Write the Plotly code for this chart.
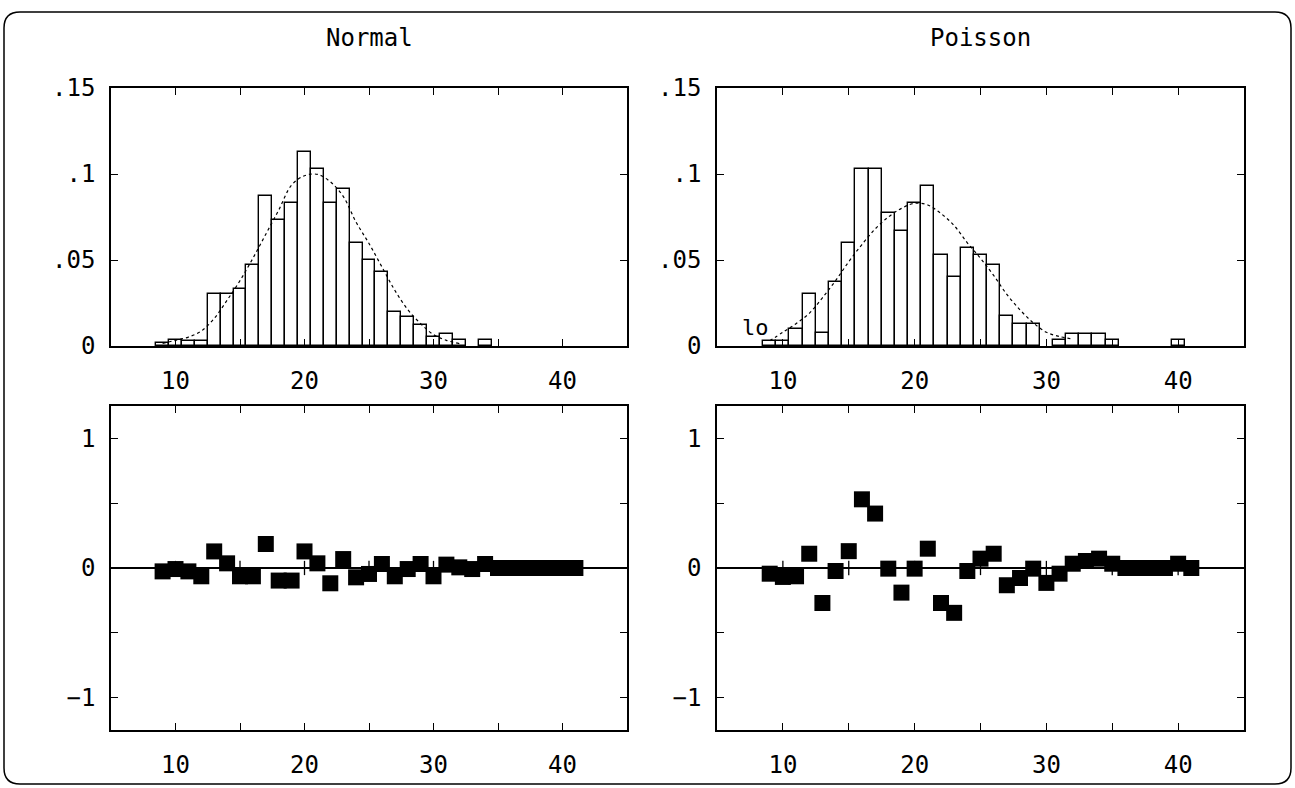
import plotly.graph_objects as go

W, H = 1295, 788

# ---------------- data ----------------
# Normal histogram (bin centres, relative frequency)
normal_bins = [9, 10, 11, 12, 13, 14, 15, 16, 17, 18, 19, 20, 21, 22, 23, 24, 25,
               26, 27, 28, 29, 30, 31, 32, 34]
normal_freq = [0.002, 0.0035, 0.0027, 0.0027, 0.030, 0.030, 0.033, 0.047, 0.087,
               0.073, 0.083, 0.113, 0.103, 0.083, 0.091, 0.060, 0.050, 0.043,
               0.020, 0.017, 0.0125, 0.0055, 0.0072, 0.0033, 0.0033]

# Normal fitted curve
normal_curve_x = list(range(9, 33))
normal_curve_y = [0.0015, 0.0033, 0.0052, 0.0087, 0.016, 0.0266, 0.038, 0.051,
                  0.065, 0.079, 0.0936, 0.099, 0.0998, 0.0955, 0.087, 0.072,
                  0.0596, 0.046, 0.0324, 0.0212, 0.013, 0.0066, 0.0033, 0.0014]

# Poisson histogram
poisson_bins = [9, 10, 11, 12, 13, 14, 15, 16, 17, 18, 19, 20, 21, 22, 23, 24, 25,
                26, 27, 28, 29, 31, 32, 33, 34, 35, 40]
poisson_freq = [0.003, 0.003, 0.0097, 0.030, 0.0074, 0.0374, 0.060, 0.103, 0.103,
                0.0775, 0.067, 0.083, 0.093, 0.053, 0.040, 0.057, 0.053, 0.047,
                0.0175, 0.0128, 0.0128, 0.0033, 0.007, 0.007, 0.007, 0.0033, 0.0033]

# Poisson fitted curve
poisson_curve_x = list(range(9, 33))
poisson_curve_y = [0.003, 0.008, 0.013, 0.019, 0.028, 0.038, 0.049, 0.059, 0.068,
                   0.075, 0.080, 0.083, 0.082, 0.077, 0.070, 0.060, 0.051, 0.041,
                   0.030, 0.021, 0.0135, 0.008, 0.0055, 0.004]

# Residuals
resid_x = list(range(9, 42))
normal_resid = [-0.026, -0.008, -0.026, -0.064, 0.128, 0.036, -0.064, -0.064, 0.185,
                -0.097, -0.097, 0.128, 0.036, -0.118, 0.069, -0.072, -0.046, 0.031,
                -0.064, -0.008, 0.031, -0.064, 0.026, 0.005, -0.008, 0.031,
                0.0, 0.0, 0.0, 0.0, 0.0, 0.0, 0.0]
poisson_resid = [-0.044, -0.069, -0.064, 0.11, -0.27, -0.023, 0.13, 0.53, 0.42,
                 -0.005, -0.19, -0.005, 0.149, -0.27, -0.346, -0.023, 0.072, 0.11,
                 -0.133, -0.077, -0.005, -0.115, -0.044, 0.033, 0.054, 0.072, 0.033,
                 0.0, 0.0, 0.0, 0.0, 0.033, 0.0]

x_ticks = [10, 15, 20, 25, 30, 35, 40]
x_ticktext = ["10", "", "20", "", "30", "", "40"]
hist_yticks = [0, 0.05, 0.1, 0.15]
hist_yticktext = ["0", ".05", ".1", ".15"]
res_yticks = [-1, -0.5, 0, 0.5, 1]
res_yticktext = ["\u22121", "", "0", "", "1"]
titles = ["Normal", "Poisson"]
note_text = "lo"

FONT = "DejaVu Sans Mono, Liberation Mono, monospace"

# ---------------- layout geometry ----------------
def px_x(p):
    return p / W

def px_y(p):
    return 1 - p / H

dom_x_left = [px_x(111), px_x(627)]
dom_x_right = [px_x(717), px_x(1244)]
dom_y_top = [px_y(346), px_y(88)]
dom_y_bot = [px_y(730), px_y(406)]

fig = go.Figure()

bar_style = dict(color="white", line=dict(color="black", width=1.4))
curve_style = dict(color="black", width=1.2, dash="dot", shape="spline")
marker_style = dict(symbol="square", size=16, color="black", line=dict(width=0))

# Histograms
fig.add_trace(go.Bar(x=normal_bins, y=normal_freq, width=1, marker=bar_style,
                     xaxis="x", yaxis="y", showlegend=False))
fig.add_trace(go.Scatter(x=normal_curve_x, y=normal_curve_y, mode="lines",
                         line=curve_style, xaxis="x", yaxis="y", showlegend=False))
fig.add_trace(go.Bar(x=poisson_bins, y=poisson_freq, width=1, marker=bar_style,
                     xaxis="x2", yaxis="y2", showlegend=False))
fig.add_trace(go.Scatter(x=poisson_curve_x, y=poisson_curve_y, mode="lines",
                         line=curve_style, xaxis="x2", yaxis="y2", showlegend=False))

# Crossing tick marks on the zero line of the residual plots
tick_half = 0.055
cross_x, cross_y = [], []
for t in x_ticks:
    cross_x += [t, t, None]
    cross_y += [-tick_half, tick_half, None]
for xa, ya in (("x3", "y3"), ("x4", "y4")):
    fig.add_trace(go.Scatter(x=cross_x, y=cross_y, mode="lines",
                             line=dict(color="black", width=1.3),
                             xaxis=xa, yaxis=ya, showlegend=False, hoverinfo="skip"))

# Residuals
fig.add_trace(go.Scatter(x=resid_x, y=normal_resid, mode="markers", marker=marker_style,
                         xaxis="x3", yaxis="y3", showlegend=False))
fig.add_trace(go.Scatter(x=resid_x, y=poisson_resid, mode="markers", marker=marker_style,
                         xaxis="x4", yaxis="y4", showlegend=False))

tickfont = dict(family=FONT, size=24, color="black")

def xax(domain, anchor):
    return dict(domain=domain, anchor=anchor, range=[5, 45], showgrid=False,
                zeroline=False, showline=True, linecolor="black", linewidth=1.5,
                mirror="ticks", ticks="inside", ticklen=7, tickwidth=1.3,
                tickcolor="black", tickvals=x_ticks, ticktext=x_ticktext,
                tickfont=tickfont, ticklabelstandoff=12, automargin=False,
                fixedrange=True)

def yax(domain, anchor, rng, vals, text, zero=False):
    return dict(domain=domain, anchor=anchor, range=rng, showgrid=False,
                zeroline=zero, zerolinecolor="black", zerolinewidth=1.5,
                showline=True, linecolor="black", linewidth=1.5,
                mirror="ticks", ticks="inside", ticklen=7, tickwidth=1.3,
                tickcolor="black", tickvals=vals, ticktext=text,
                tickfont=tickfont, ticklabelstandoff=9, automargin=False,
                fixedrange=True)

fig.update_layout(
    width=W, height=H, autosize=False,
    margin=dict(l=0, r=0, t=0, b=0, pad=0, autoexpand=False),
    paper_bgcolor="white", plot_bgcolor="white",
    bargap=0,
    xaxis=xax(dom_x_left, "y"),
    yaxis=yax(dom_y_top, "x", [0, 0.15], hist_yticks, hist_yticktext),
    xaxis2=xax(dom_x_right, "y2"),
    yaxis2=yax(dom_y_top, "x2", [0, 0.15], hist_yticks, hist_yticktext),
    xaxis3=xax(dom_x_left, "y3"),
    yaxis3=yax(dom_y_bot, "x3", [-1.25, 1.25], res_yticks, res_yticktext, zero=True),
    xaxis4=xax(dom_x_right, "y4"),
    yaxis4=yax(dom_y_bot, "x4", [-1.25, 1.25], res_yticks, res_yticktext, zero=True),
)

# Titles (centred over each column of plots)
title_font = dict(family=FONT, size=24, color="black")
fig.add_annotation(text=titles[0], x=sum(dom_x_left) / 2, y=px_y(38), xref="paper",
                   yref="paper", showarrow=False, font=title_font,
                   xanchor="center", yanchor="middle")
fig.add_annotation(text=titles[1], x=sum(dom_x_right) / 2, y=px_y(38), xref="paper",
                   yref="paper", showarrow=False, font=title_font,
                   xanchor="center", yanchor="middle")

# small label inside the Poisson histogram
fig.add_annotation(text=note_text, x=7.9, y=0.011, xref="x2", yref="y2",
                   showarrow=False, font=dict(family=FONT, size=22, color="black"),
                   xanchor="center", yanchor="middle")

# Rounded outer frame
x0, x1 = px_x(4), px_x(1291)
yt, yb = px_y(12), px_y(784)
rx, ry = 16 / W, 16 / H
path = (f"M {x0+rx},{yt} L {x1-rx},{yt} Q {x1},{yt} {x1},{yt-ry} "
        f"L {x1},{yb+ry} Q {x1},{yb} {x1-rx},{yb} L {x0+rx},{yb} "
        f"Q {x0},{yb} {x0},{yb+ry} L {x0},{yt-ry} Q {x0},{yt} {x0+rx},{yt} Z")
fig.add_shape(type="path", path=path, xref="paper", yref="paper",
              line=dict(color="black", width=1.5), layer="below")

fig.write_html("out.html")
